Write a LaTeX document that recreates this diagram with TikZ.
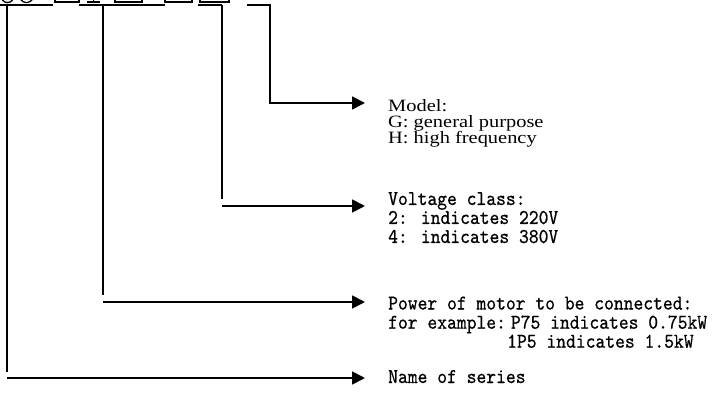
\documentclass[tikz,border=0pt]{standalone}
\usepackage{fontspec}
\setmainfont{Liberation Serif}[FakeStretch=1.18]
\newfontfamily\simfont{lmmono10-regular.otf}[FakeStretch=0.89,FakeBold=0.6]
\usetikzlibrary{arrows.meta}
\begin{document}
\begin{tikzpicture}[x=1pt,y=-1pt,
  wire/.style={line width=1.8pt},
  conn/.style={line width=1.8pt,-{Triangle[length=13pt,width=13pt]}},
  glyph/.style={line width=1.3pt},
  serif/.style={anchor=base west,inner sep=0pt,font=\fontsize{17.3}{16}\selectfont},
  mono/.style={anchor=base west,inner sep=0pt,font=\simfont\fontsize{21}{19}\selectfont}]
\useasboundingbox (0,0) rectangle (723,398);
% cropped top line of the type code
\begin{scope}
  \clip (0,0) rectangle (723,398);
  \draw[glyph] (7.5,-6) ellipse (7 and 8.6);
  \draw[glyph] (26.5,-6) ellipse (7.5 and 8.6);
  \draw[glyph] (55,-20) rectangle (79,2);
  \draw[glyph] (87,2) -- (100,2);
  \draw[glyph] (93.5,-20) -- (93.5,2);
  \draw[glyph] (115,-20) rectangle (142,2);
  \draw[glyph] (165,-20) rectangle (192,2);
  \draw[glyph] (200,-20) rectangle (229,2);
\end{scope}
% underlines
\draw[wire] (0,5.3) -- (53,5.3);
\draw[wire] (79,5.3) -- (165,5.3);
\draw[wire] (198,5.3) -- (222,5.3);
\draw[wire] (247,5.3) -- (271,5.3);
% coordinates
\coordinate (cA) at (270,5.3);
\coordinate (tA) at (365,103);
\coordinate (cB) at (222,5.3);
\coordinate (eB) at (222,199);
\coordinate (sB) at (222,206);
\coordinate (tB) at (365,206);
\coordinate (cC) at (103,5.3);
\coordinate (eC) at (103,295);
\coordinate (sC) at (103,302);
\coordinate (tC) at (365,302);
\coordinate (cD) at (7,5.3);
\coordinate (eD) at (7,372);
\coordinate (sD) at (7,378);
\coordinate (tD) at (365,378);
% connectors
\draw[conn] (cA) |- (tA);
\draw[wire] (cB) -- (eB);
\draw[conn] (sB) -- (tB);
\draw[wire] (cC) -- (eC);
\draw[conn] (sC) -- (tC);
\draw[wire] (cD) -- (eD);
\draw[conn] (sD) -- (tD);
% labels
\node[serif] (m1) at (388,111.7) {Model:};
\node[serif] (m2) at (388,127.7) {G: general purpose};
\node[serif] (m3) at (388,143.5) {H: high frequency};
\node[mono] (v1) at (388,205) {Voltage class:};
\node[mono] (v2) at (388,224) {2: indicates 220V};
\node[mono] (v3) at (388,243) {4: indicates 380V};
\node[mono] (p1) at (388,309.5) {Power of motor to be connected:};
\node[mono] (p2) at (388,328.7) {for example:\kern5pt P75 indicates 0.75kW};
\node[mono] (p3) at (507,347.7) {1P5 indicates 1.5kW};
\node[mono] (n1) at (388,383) {Name of series};
\end{tikzpicture}
\end{document}
